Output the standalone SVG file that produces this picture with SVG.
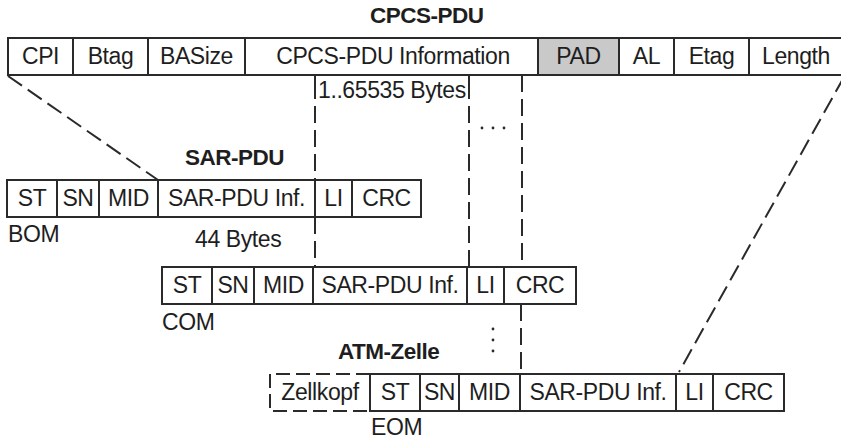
<svg xmlns="http://www.w3.org/2000/svg" width="841" height="443" viewBox="0 0 841 443">
<style>
.box{fill:#fff;stroke:#2a2a2a;stroke-width:2}
.div{stroke:#2a2a2a;stroke-width:2}
.pad{fill:#c9c9c9;stroke:#2a2a2a;stroke-width:2}
.t{font-family:"Liberation Sans",Arial,sans-serif;font-size:23px;letter-spacing:-0.4px;fill:#1e1e1e}
.c{text-anchor:middle}
.b{font-weight:bold;font-size:22.5px;letter-spacing:-0.5px}
.dash{fill:none;stroke:#2a2a2a;stroke-width:2;stroke-dasharray:17 7}
.solid{fill:none;stroke:#2a2a2a;stroke-width:2}
.dot{fill:#2a2a2a}
.zk{fill:none;stroke:#2a2a2a;stroke-width:2;stroke-dasharray:14 6}
</style>
<rect width="841" height="443" fill="#fff"/>

<g id="title-cpcs"><text class="t b" x="370" y="23">CPCS-PDU</text></g>

<g id="cpcs-pdu">
  <rect class="box" x="8" y="38" width="840" height="37"/>
  <rect class="pad" x="538" y="38" width="81" height="37"/>
  <line class="div" x1="73" y1="38" x2="73" y2="75"/>
  <line class="div" x1="148" y1="38" x2="148" y2="75"/>
  <line class="div" x1="245" y1="38" x2="245" y2="75"/>
  <line class="div" x1="674" y1="38" x2="674" y2="75"/>
  <line class="div" x1="749" y1="38" x2="749" y2="75"/>
  <text class="t c" x="40.5" y="64">CPI</text>
  <text class="t c" x="110.5" y="64">Btag</text>
  <text class="t c" x="196.5" y="64">BASize</text>
  <text class="t c" x="393" y="64">CPCS-PDU Information</text>
  <text class="t c" x="578.5" y="64">PAD</text>
  <text class="t c" x="646.5" y="64">AL</text>
  <text class="t c" x="711.5" y="64">Etag</text>
  <text class="t c" x="796" y="64">Length</text>
</g>

<g id="label-bytes-info"><text class="t" x="318" y="98">1..65535 Bytes</text></g>

<g id="title-sar"><text class="t b" x="185" y="165">SAR-PDU</text></g>

<g id="sar-bom">
  <rect class="box" x="7" y="180" width="414" height="37"/>
  <line class="div" x1="57" y1="180" x2="57" y2="217"/>
  <line class="div" x1="99" y1="180" x2="99" y2="217"/>
  <line class="div" x1="158" y1="180" x2="158" y2="217"/>
  <line class="div" x1="315" y1="180" x2="315" y2="217"/>
  <line class="div" x1="352" y1="180" x2="352" y2="217"/>
  <text class="t c" x="32" y="206">ST</text>
  <text class="t c" x="78" y="206">SN</text>
  <text class="t c" x="128.5" y="206">MID</text>
  <text class="t c" x="236.5" y="206">SAR-PDU Inf.</text>
  <text class="t c" x="333.5" y="206">LI</text>
  <text class="t c" x="386.5" y="206">CRC</text>
  <text class="t" x="8" y="242">BOM</text>
  <text class="t" x="195" y="247">44 Bytes</text>
</g>

<g id="sar-com">
  <rect class="box" x="162" y="267" width="414" height="37"/>
  <line class="div" x1="212" y1="267" x2="212" y2="304"/>
  <line class="div" x1="254" y1="267" x2="254" y2="304"/>
  <line class="div" x1="313" y1="267" x2="313" y2="304"/>
  <line class="div" x1="467" y1="267" x2="467" y2="304"/>
  <line class="div" x1="504" y1="267" x2="504" y2="304"/>
  <text class="t c" x="187" y="293">ST</text>
  <text class="t c" x="233" y="293">SN</text>
  <text class="t c" x="283.5" y="293">MID</text>
  <text class="t c" x="390" y="293">SAR-PDU Inf.</text>
  <text class="t c" x="485.5" y="293">LI</text>
  <text class="t c" x="540" y="293">CRC</text>
  <text class="t" x="162" y="330">COM</text>
</g>

<g id="title-atm"><text class="t b" x="338" y="359">ATM-Zelle</text></g>

<g id="atm-eom">
  <path class="zk" d="M370 374 H270 V411 H370"/>
  <rect class="box" x="370" y="374" width="414" height="37"/>
  <line class="div" x1="420" y1="374" x2="420" y2="411"/>
  <line class="div" x1="459" y1="374" x2="459" y2="411"/>
  <line class="div" x1="520" y1="374" x2="520" y2="411"/>
  <line class="div" x1="676" y1="374" x2="676" y2="411"/>
  <line class="div" x1="713" y1="374" x2="713" y2="411"/>
  <text class="t c" x="320" y="400">Zellkopf</text>
  <text class="t c" x="395" y="400">ST</text>
  <text class="t c" x="439.5" y="400">SN</text>
  <text class="t c" x="489.5" y="400">MID</text>
  <text class="t c" x="598" y="400">SAR-PDU Inf.</text>
  <text class="t c" x="694.5" y="400">LI</text>
  <text class="t c" x="748.5" y="400">CRC</text>
  <text class="t" x="371" y="435">EOM</text>
</g>

<g id="connectors">
  <line class="dash" x1="8" y1="76" x2="158" y2="180"/>
  <line class="dash" x1="844" y1="77" x2="679" y2="372"/>
  <line class="solid" x1="315" y1="75" x2="315" y2="99"/>
  <line class="dash" x1="315" y1="106" x2="315" y2="180"/>
  <line class="dash" x1="315" y1="217" x2="315" y2="267"/>
  <line class="solid" x1="469" y1="75" x2="469" y2="99"/>
  <line class="dash" x1="469" y1="106" x2="469" y2="267"/>
  <line class="dash" x1="522" y1="75" x2="522" y2="267"/>
  <line class="dash" x1="521" y1="304" x2="521" y2="374"/>
  <circle class="dot" cx="482" cy="128" r="1.4"/>
  <circle class="dot" cx="493" cy="128" r="1.4"/>
  <circle class="dot" cx="504" cy="128" r="1.4"/>
  <circle class="dot" cx="493" cy="329" r="1.4"/>
  <circle class="dot" cx="493" cy="340" r="1.4"/>
  <circle class="dot" cx="493" cy="351" r="1.4"/>
</g>
</svg>
